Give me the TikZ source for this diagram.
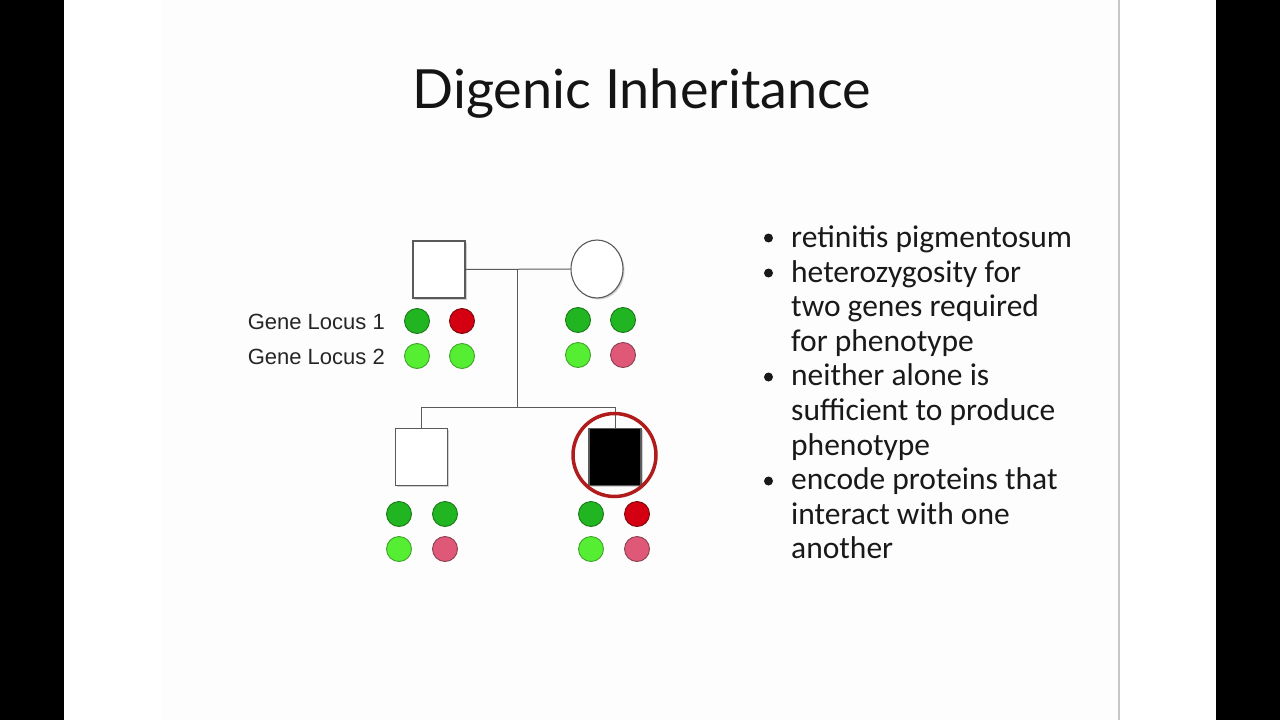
\documentclass[tikz,border=0pt]{standalone}
\usepackage{fontspec}
\setmainfont{Carlito}
\newfontfamily\titlefont{Lato}
\newfontfamily\arialfont{Liberation Sans}
\usetikzlibrary{shadows,shapes.geometric}
\definecolor{slidebg}{HTML}{FDFDFD}
\definecolor{edgegray}{HTML}{5A5A5A}
\definecolor{dkgreen}{HTML}{22B522}
\definecolor{dkgreenb}{HTML}{1A7A1A}
\definecolor{ltgreen}{HTML}{55EE33}
\definecolor{ltgreenb}{HTML}{3FA52A}
\definecolor{redal}{HTML}{D40012}
\definecolor{redalb}{HTML}{7A0A0A}
\definecolor{pinkal}{HTML}{E05878}
\definecolor{pinkalb}{HTML}{8A4050}
\definecolor{ringred}{HTML}{B01C1C}
\begin{document}
\begin{tikzpicture}[x=1pt,y=-1pt,
  person/.style={draw=edgegray,line width=1.1pt,fill=white,inner sep=0pt,
     drop shadow={shadow xshift=1.5pt,shadow yshift=-1.5pt,opacity=0.35,fill=gray}},
  male/.style={person,rectangle,minimum width=52pt,minimum height=57pt},
  female/.style={person,ellipse,minimum width=52pt,minimum height=58pt},
  affected/.style={fill=black},
  allele/.style={circle,minimum size=25pt,inner sep=0pt,line width=0.9pt},
  gA/.style={allele,fill=dkgreen,draw=dkgreenb},
  ga/.style={allele,fill=redal,draw=redalb},
  gB/.style={allele,fill=ltgreen,draw=ltgreenb},
  gb/.style={allele,fill=pinkal,draw=pinkalb},
  pline/.style={draw=edgegray,line width=1pt},
  locuslabel/.style={font=\arialfont\fontsize{22}{26}\selectfont,text=black!85,anchor=base east,inner sep=0pt},
  bullettext/.style={font=\fontsize{31.5}{36}\selectfont,text=black!90,anchor=base west,inner sep=0pt},
  bulletdot/.style={circle,fill=black!90,minimum size=9pt,inner sep=0pt}
]
\useasboundingbox (0,0) rectangle (1280,720);
% frame
\fill[black] (0,0) rectangle (64,720);
\fill[black] (1216,0) rectangle (1280,720);
\fill[white] (64,0) rectangle (1216,720);
\fill[slidebg] (162,0) rectangle (1118,720);
\draw[gray!45,line width=1.5pt] (1119,0) -- (1119,720);
% title
\node[font=\titlefont\fontsize{54}{64}\selectfont,anchor=base,inner sep=0pt,text=black!92] (title) at (642,108) {Digenic Inheritance};
% pedigree
\node[male] (father) at (439,269.5) {};
\node[female] (mother) at (597,269) {};
\node[male] (son1) at (421.5,457) {};
\node[male,affected] (son2) at (615,457) {};
\coordinate (mid) at (517,269);
\coordinate (sib) at (517,407);
\coordinate (sibL) at (421.5,407);
\coordinate (sibR) at (615,407);
\draw[pline] (father.east) -- (mother.west);
\draw[pline] (mid) -- (sib);
\draw[pline] (sibL) -- (sibR);
\draw[pline] (sibL) -- (son1.north);
\draw[pline] (sibR) -- (son2.north);
\node[circle,draw=ringred,line width=3.5pt,minimum size=83pt,inner sep=0pt] (ring) at (614.5,455) {};
% alleles
\node[gA] (f1a) at (417,321) {}; \node[ga] (f1b) at (462,321) {};
\node[gB] (f2a) at (417,356) {}; \node[gB] (f2b) at (462,356) {};
\node[gA] (m1a) at (578,320) {}; \node[gA] (m1b) at (623,320) {};
\node[gB] (m2a) at (578,355) {}; \node[gb] (m2b) at (623,355) {};
\node[gA] (s1a) at (399,514) {}; \node[gA] (s1b) at (445,514) {};
\node[gB] (s2a) at (399,549) {}; \node[gb] (s2b) at (445,549) {};
\node[gA] (t1a) at (591,514) {}; \node[ga] (t1b) at (637,514) {};
\node[gB] (t2a) at (591,549) {}; \node[gb] (t2b) at (637,549) {};
% labels
\node[locuslabel] (loc1) at (385,329) {Gene Locus 1};
\node[locuslabel] (loc2) at (385,364) {Gene Locus 2};
% bullets
\node[bulletdot] (b1) at (768.5,238) {};
\node[bulletdot] (b2) at (768.5,273) {};
\node[bulletdot] (b3) at (768.5,377) {};
\node[bulletdot] (b4) at (768.5,481) {};
\node[bullettext] (t1) at (791,247) {retinitis pigmentosum};
\node[bullettext] (t2) at (791,282) {heterozygosity for};
\node[bullettext] (t3) at (791,316) {two genes required};
\node[bullettext] (t4) at (791,351) {for phenotype};
\node[bullettext] (t5) at (791,385) {neither alone is};
\node[bullettext] (t6) at (791,420) {sufficient to produce};
\node[bullettext] (t7) at (791,455) {phenotype};
\node[bullettext] (t8) at (791,489) {encode proteins that};
\node[bullettext] (t9) at (791,524) {interact with one};
\node[bullettext] (t10) at (791,558) {another};
\end{tikzpicture}
\end{document}
